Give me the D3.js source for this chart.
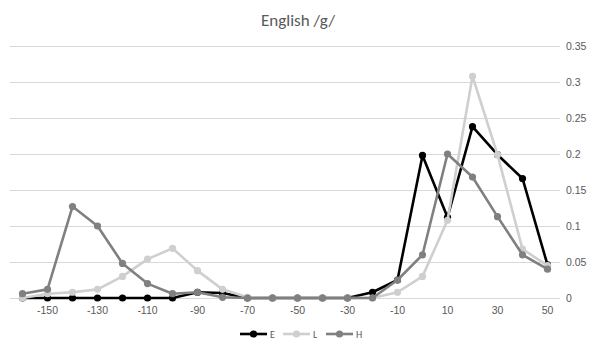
<!DOCTYPE html>
<html><head><meta charset="utf-8">
<script src="https://cdn.jsdelivr.net/npm/d3@7/dist/d3.min.js"></script>
<style>body{margin:0;background:#fff;}svg{display:block;font-family:Calibri,Carlito,"Liberation Sans","Open Sans",sans-serif;}</style>
</head><body>
<script>
const categories = [-160,-150,-140,-130,-120,-110,-100,-90,-80,-70,-60,-50,-40,-30,-20,-10,0,10,20,30,40,50];
const seriesE = [0,0,0,0,0,0,0,0.008,0.007,0,0,0,0,0,0.008,0.025,0.198,0.112,0.238,0.199,0.166,0.046];
const seriesL = [0,0.006,0.008,0.012,0.03,0.054,0.069,0.038,0.012,0.001,0,0,0,0,0,0.008,0.03,0.108,0.308,0.199,0.068,0.045];
const seriesH = [0.006,0.012,0.127,0.1,0.048,0.02,0.006,0.008,0.001,0,0,0,0,0,0,0.025,0.06,0.2,0.168,0.113,0.06,0.04];
const yTicks = [0,0.05,0.1,0.15,0.2,0.25,0.3,0.35];
const xTickLabels = [-150,-130,-110,-90,-70,-50,-30,-10,10,30,50];
const seriesNames = ["E","L","H"];
const colors = ["#000000","#cfcfcf","#808080"];

const W=594,H=341;
const svg=d3.select("body").append("svg").attr("width",W).attr("height",H);
const x=d3.scaleBand().domain(categories).range([10,560]);
const cx=d=>x(d)+x.bandwidth()/2;
const y=d3.scaleLinear().domain([0,0.35]).range([298,46]);

svg.append("text").attr("x",298).attr("y",26).attr("text-anchor","middle")
  .attr("font-size",17).attr("fill","#595959").text("English /g/");

const yAxis=d3.axisRight(y).tickValues(yTicks).tickSize(550).tickFormat(d=>d3.format("")(+d.toFixed(2)));
const gy=svg.append("g").attr("transform","translate(10,0)").call(yAxis);
gy.select(".domain").remove();
gy.selectAll(".tick line").attr("stroke","#d9d9d9").attr("stroke-width",1);
gy.selectAll(".tick text").attr("x",556).attr("fill","#595959").attr("font-size",10.5);

const xAxis=d3.axisBottom(x).tickValues(xTickLabels).tickSize(0).tickPadding(9);
const gx=svg.append("g").attr("transform","translate(0,298)").call(xAxis);
gx.select(".domain").remove();
gx.selectAll(".tick text").attr("fill","#595959").attr("font-size",10.5);

const data=[seriesE,seriesL,seriesH];
const line=d3.line().x((d,i)=>cx(categories[i])).y(d=>y(d));
data.forEach((s,k)=>{
  const g=svg.append("g");
  g.append("path").datum(s).attr("d",line).attr("fill","none").attr("stroke",colors[k]).attr("stroke-width",2.6).attr("stroke-linejoin","round");
  g.selectAll("circle").data(s).join("circle").attr("cx",(d,i)=>cx(categories[i])).attr("cy",d=>y(d)).attr("r",3.6).attr("fill",colors[k]);
});

const lx=[240,283,326];
seriesNames.forEach((n,k)=>{
  const g=svg.append("g").attr("transform",`translate(${lx[k]},334)`);
  g.append("line").attr("x1",0).attr("x2",27).attr("stroke",colors[k]).attr("stroke-width",2.6);
  g.append("circle").attr("cx",13.5).attr("r",3.6).attr("fill",colors[k]);
  g.append("text").attr("x",30).attr("y",3.5).attr("font-size",10).attr("fill","#595959").text(n);
});
</script>
</body></html>
